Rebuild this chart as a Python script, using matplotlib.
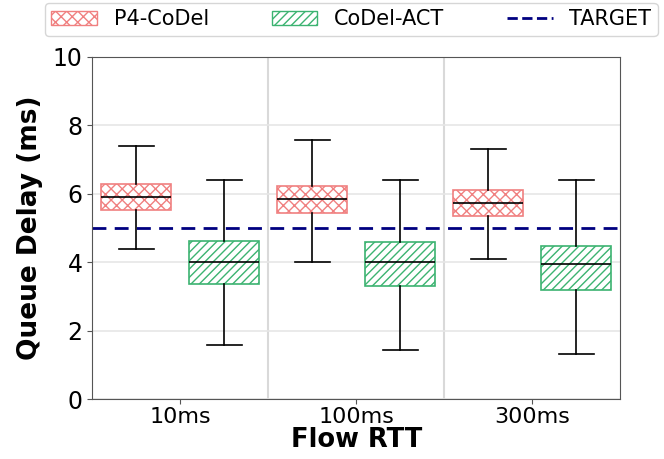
import matplotlib.pyplot as plt
from matplotlib.patches import Patch
from matplotlib.lines import Line2D

rtts = ['10ms', '100ms', '300ms']

# whisker low, Q1, median, Q3, whisker high
p4_low = [4.39, 4.01, 4.10]
p4_q1 = [5.52, 5.44, 5.35]
p4_med = [5.90, 5.84, 5.73]
p4_q3 = [6.28, 6.22, 6.10]
p4_high = [7.41, 7.56, 7.30]

act_low = [1.60, 1.45, 1.31]
act_q1 = [3.37, 3.31, 3.20]
act_med = [4.01, 4.01, 3.95]
act_q3 = [4.62, 4.59, 4.48]
act_high = [6.40, 6.42, 6.40]

target = 5.0

plt.rcParams['hatch.linewidth'] = 1.0

fig, ax = plt.subplots(figsize=(6.64, 4.59), dpi=100)
fig.subplots_adjust(left=0.139, right=0.934, top=0.876, bottom=0.13)


def stats(low, q1, med, q3, high):
    return [dict(whislo=a, q1=b, med=c, q3=d, whishi=e, fliers=[])
            for a, b, c, d, e in zip(low, q1, med, q3, high)]


pos = [0, 1, 2]
series = [
    (stats(p4_low, p4_q1, p4_med, p4_q3, p4_high), -0.25, '#f08080', 'xxx'),
    (stats(act_low, act_q1, act_med, act_q3, act_high), 0.25, '#3cb371', '////'),
]
for st, off, col, hatch in series:
    bp = ax.bxp(st, positions=[p + off for p in pos], widths=0.4,
                patch_artist=True, showfliers=False,
                medianprops=dict(color='black', linewidth=1.2),
                whiskerprops=dict(color='black', linewidth=1.2),
                capprops=dict(color='black', linewidth=1.2))
    for b in bp['boxes']:
        b.set_facecolor('white')
        b.set_edgecolor(col)
        b.set_hatch(hatch)
        b.set_linewidth(1.2)

ax.axhline(target, color='navy', linestyle='--', linewidth=2, dashes=(5, 3))

ax.set_xlim(-0.5, 2.5)
ax.set_ylim(0, 10)
ax.set_xticks(pos)
ax.set_xticklabels(rtts)
ax.set_yticks([0, 2, 4, 6, 8, 10])
ax.tick_params(labelsize=17, color='#555555')
ax.tick_params(axis='x', labelsize=16, pad=2)
ax.set_xlabel('Flow RTT', fontsize=18.5, fontweight='bold', labelpad=0)
ax.set_ylabel('Queue Delay (ms)', fontsize=19, fontweight='bold', labelpad=7)
ax.yaxis.grid(True, color='#e6e6e6', linewidth=1.2)
for x in [0.5, 1.5]:
    ax.axvline(x, color='#d9d9d9', linewidth=1.5, zorder=0)
ax.set_axisbelow(True)
for s in ax.spines.values():
    s.set_color('#555555')

handles = [
    Patch(facecolor='white', edgecolor='#f08080', hatch='xxx', label='P4-CoDel'),
    Patch(facecolor='white', edgecolor='#3cb371', hatch='////', label='CoDel-ACT'),
    Line2D([], [], color='navy', linestyle='--', linewidth=2, label='TARGET'),
]
fig.legend(handles=handles, loc='upper center', bbox_to_anchor=(0.529, 0.993),
           ncol=3, fontsize=15, frameon=True, columnspacing=3.0,
           handlelength=2.2, borderpad=0.3, borderaxespad=0)

plt.savefig('out.png', dpi=100)
